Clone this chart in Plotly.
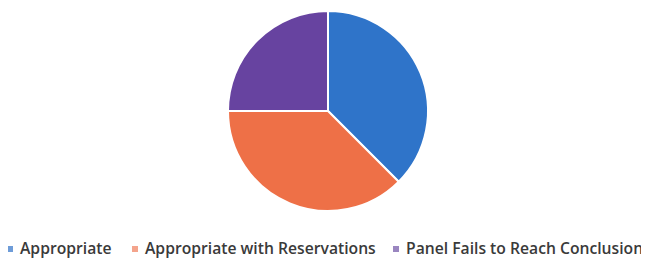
import plotly.graph_objects as go

labels = ["Appropriate", "Appropriate with Reservations", "Panel Fails to Reach Conclusion"]
values = [3, 3, 2]
colors = ["#2F74C9", "#EE7047", "#6743A0"]
legend_colors = ["#6E9CD8", "#F4A48C", "#9A86C0"]

# page body has an 8px margin, so the figure is drawn at (8, 8)
OFF = 8
W, H = 649 - OFF, 262 - OFF
cx, cy, r = 328 - OFF, 111 - OFF, 100

fig = go.Figure(go.Pie(
    labels=labels, values=values, sort=False, direction="clockwise", rotation=0,
    marker=dict(colors=colors, line=dict(color="white", width=2)),
    textinfo="none", hoverinfo="label+percent",
    domain=dict(x=[(cx - r) / W, (cx + r) / W], y=[1 - (cy + r) / H, 1 - (cy - r) / H]),
))

# custom legend row (screen pixel layout)
text_x = [21, 146, 407]
legend_y = 248
for lab, lc, tx in zip(labels, legend_colors, text_x):
    mx0, mx1 = tx - 14 - OFF, tx - 8 - OFF
    my0, my1 = legend_y - 2 - OFF, legend_y + 4 - OFF
    fig.add_shape(
        type="rect", xref="paper", yref="paper",
        x0=mx0 / W, x1=mx1 / W, y0=1 - my1 / H, y1=1 - my0 / H,
        fillcolor=lc, line=dict(width=0),
    )
    fig.add_annotation(
        text=lab, x=(tx - 3 - OFF) / W, y=1 - (legend_y - OFF) / H,
        xref="paper", yref="paper", xanchor="left", yanchor="middle",
        showarrow=False, font=dict(family="Open Sans", size=15.7, color="#3a3a3a", weight=600),
    )

fig.update_layout(
    width=W, height=H, margin=dict(l=0, r=0, t=0, b=0),
    showlegend=False, paper_bgcolor="white", plot_bgcolor="white",
)
fig.write_html("out.html")
